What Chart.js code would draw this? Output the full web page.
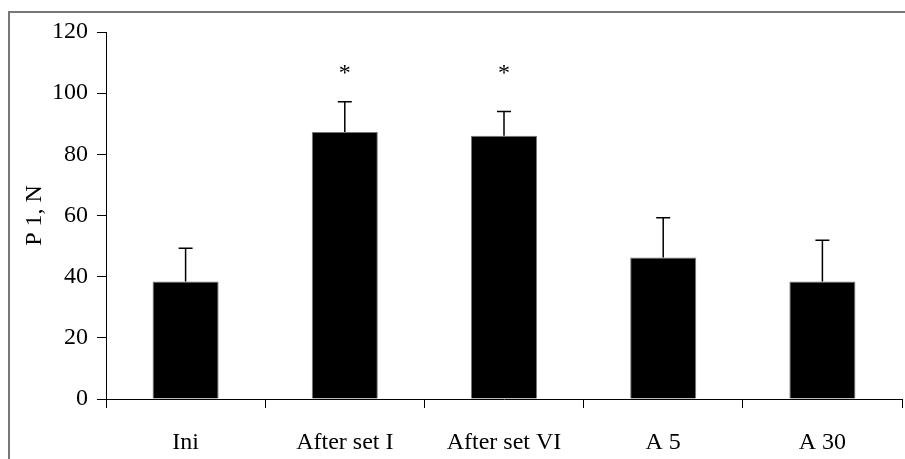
<!DOCTYPE html>
<html>
<head>
<meta charset="utf-8">
<script src="https://cdn.jsdelivr.net/npm/chart.js@4"></script>
<style>
  html, body { margin: 0; padding: 0; background: #fff; }
  #wrap { position: relative; width: 905px; height: 459px; overflow: hidden; }
  #frame { position: absolute; left: 8px; top: 11px; width: 1000px; height: 1000px; border: 2px solid #777; }
  canvas { position: absolute; left: 0; top: 0; }
</style>
</head>
<body>
<div id="wrap">
  <div id="frame"></div>
  <canvas id="myChart" width="905" height="459"></canvas>
</div>
<script>
const categories = ['Ini', 'After set I', 'After set VI', 'A 5', 'A 30'];
const means = [38.4, 87.3, 86.1, 46.3, 38.4];
const errors = [10.9, 9.9, 7.9, 13.0, 13.5];
const significant = [false, true, true, false, false];
const yTicks = [0, 20, 40, 60, 80, 100, 120];

const serif = '"Liberation Serif", "Times New Roman", serif';

// upper error bars + asterisks
const errorBars = {
    id: 'errorBars',
    afterDatasetsDraw(chart) {
        const ctx = chart.ctx;
        const y = chart.scales.y;
        const meta = chart.getDatasetMeta(0);
        ctx.save();
        ctx.strokeStyle = '#000';
        ctx.lineWidth = 1.5;
        meta.data.forEach((bar, i) => {
            const top = y.getPixelForValue(means[i] + errors[i]);
            const base = y.getPixelForValue(means[i]);
            ctx.beginPath();
            ctx.moveTo(bar.x, base);
            ctx.lineTo(bar.x, top);
            ctx.moveTo(bar.x - 7, top);
            ctx.lineTo(bar.x + 7, top);
            ctx.stroke();
            if (significant[i]) {
                ctx.fillStyle = '#000';
                ctx.font = '24px ' + serif;
                ctx.textAlign = 'center';
                ctx.textBaseline = 'middle';
                ctx.fillText('*', bar.x, y.getPixelForValue(106.5));
            }
        });
        ctx.restore();
    }
};

const ctx = document.getElementById('myChart');
const myChart = new Chart(ctx, {
    type: 'bar',
    data: {
        labels: categories,
        datasets: [{
            data: means,
            backgroundColor: '#000',
            borderColor: '#777',
            borderWidth: 1,
            categoryPercentage: 1,
            barPercentage: 0.415
        }]
    },
    options: {
        responsive: false,
        animation: false,
        layout: { padding: { top: 32, right: 3, left: 0, bottom: 0 } },
        plugins: {
            legend: { display: false },
            tooltip: { enabled: false }
        },
        scales: {
            x: {
                offset: true,
                border: { color: '#000', width: 1 },
                grid: { offset: true, drawOnChartArea: false, drawTicks: true, tickLength: 9, color: '#000' },
                ticks: { color: '#000', padding: 20, font: { family: serif, size: 24 }, maxRotation: 0 },
                afterFit(scale) { scale.height = 60; }
            },
            y: {
                min: 0,
                max: 120,
                afterBuildTicks(scale) { scale.ticks = yTicks.map(v => ({ value: v })); },
                border: { color: '#000', width: 1 },
                grid: { drawOnChartArea: false, drawTicks: true, tickLength: 9, color: '#000' },
                ticks: { color: '#000', padding: 9, font: { family: serif, size: 24 } },
                title: {
                    display: true,
                    text: 'P 1, N',
                    color: '#000',
                    font: { family: serif, size: 24 },
                    padding: { top: 20, bottom: 0 }
                },
                afterFit(scale) { scale.width = 106; }
            }
        }
    },
    plugins: [errorBars]
});
</script>
</body>
</html>
